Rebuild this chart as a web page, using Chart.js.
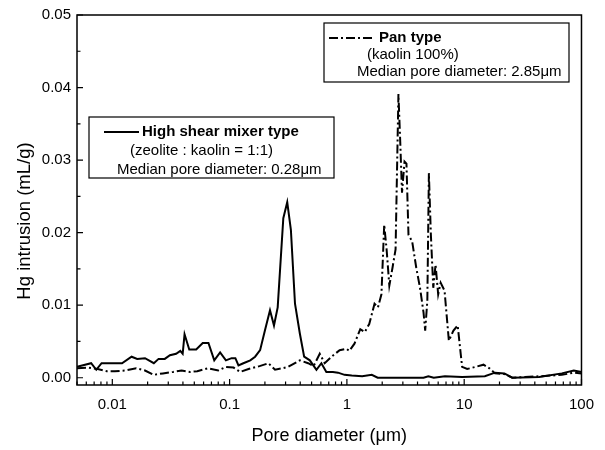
<!DOCTYPE html>
<html>
<head>
<meta charset="utf-8">
<script src="https://cdn.jsdelivr.net/npm/chart.js@4/dist/chart.umd.min.js"></script>
<style>
  html, body { margin: 0; padding: 0; background: #fff; }
  canvas { display: block; }
</style>
</head>
<body>
<canvas id="c" width="605" height="450"></canvas>
<script>
"use strict";
// tick labels
const xTickValues = [0.01, 0.1, 1, 10, 100];
const yTickValues = [0, 0.01, 0.02, 0.03, 0.04, 0.05];

// High shear mixer type (solid)
const shearX = [0.005, 0.0066, 0.0073, 0.0081, 0.01, 0.0121, 0.0146, 0.0163, 0.019, 0.0226,
  0.0248, 0.028, 0.031, 0.035, 0.038, 0.0398, 0.0413, 0.0453, 0.0519, 0.059,
  0.066, 0.074, 0.083, 0.093, 0.104, 0.112, 0.119, 0.131, 0.15, 0.165,
  0.182, 0.2, 0.221, 0.239, 0.257, 0.287, 0.31, 0.333, 0.361, 0.397,
  0.432, 0.483, 0.55, 0.606, 0.668, 0.76, 0.84, 0.955, 1.1, 1.35,
  1.63, 1.83, 4.5, 4.95, 5.5, 6.85, 9.6, 15, 18.3, 22,
  25.7, 43.6, 68, 86, 100];
const shearY = [0.0015, 0.002, 0.0011, 0.002, 0.002, 0.002, 0.0029, 0.0026, 0.0027, 0.002,
  0.0026, 0.0026, 0.0031, 0.0033, 0.0037, 0.0033, 0.006, 0.0039, 0.0039, 0.0048,
  0.0048, 0.0024, 0.0035, 0.0024, 0.0027, 0.0027, 0.0017, 0.002, 0.0024, 0.0029,
  0.0038, 0.0065, 0.0093, 0.0072, 0.0097, 0.022, 0.0242, 0.0204, 0.0102, 0.0061,
  0.0029, 0.0024, 0.0011, 0.002, 0.0008, 0.0008, 0.0007, 0.0004, 0.0003, 0.0002,
  0.0004, 0.0, 0.0, 0.0002, 0.0, 0.0002, 0.0001, 0.0002, 0.0007, 0.0006,
  0.0, 0.0001, 0.0006, 0.001, 0.0008];

// Pan type (dash-dot)
const panX = [0.005, 0.0062, 0.0075, 0.009, 0.0105, 0.013, 0.016, 0.019, 0.0225, 0.027,
  0.033, 0.039, 0.046, 0.053, 0.065, 0.08, 0.093, 0.108, 0.123, 0.145,
  0.18, 0.214, 0.244, 0.28, 0.316, 0.397, 0.467, 0.52, 0.587, 0.647,
  0.74, 0.867, 0.99, 1.05, 1.16, 1.3, 1.42, 1.55, 1.72, 1.84,
  1.97, 2.08, 2.18, 2.3, 2.45, 2.6, 2.75, 2.85, 2.95, 3.1,
  3.22, 3.35, 3.6, 3.9, 4.2, 4.5, 4.65, 4.85, 5.0, 5.2,
  5.45, 5.7, 6.0, 6.3, 6.8, 7.4, 8.1, 8.8, 9.6, 10.6,
  12.5, 14.6, 16.4, 18.3, 22, 25.7, 33, 43, 55, 68,
  86, 100];
const panY = [0.0013, 0.0014, 0.0012, 0.0009, 0.0009, 0.001, 0.0013, 0.001, 0.0004, 0.0006,
  0.0008, 0.001, 0.0008, 0.0009, 0.0013, 0.001, 0.0015, 0.0014, 0.0008, 0.0012,
  0.0016, 0.002, 0.0011, 0.0013, 0.0015, 0.0024, 0.002, 0.0016, 0.0033, 0.002,
  0.0029, 0.0038, 0.004, 0.0037, 0.0047, 0.0067, 0.0063, 0.0074, 0.0102, 0.0097,
  0.0115, 0.0211, 0.0177, 0.0127, 0.0152, 0.0177, 0.0391, 0.0325, 0.0255, 0.0298,
  0.0295, 0.0197, 0.0188, 0.0152, 0.0124, 0.009, 0.0065, 0.0106, 0.0282, 0.0197,
  0.0124, 0.0156, 0.0115, 0.0131, 0.012, 0.0051, 0.0065, 0.0072, 0.0015, 0.0012,
  0.0015, 0.0018, 0.0013, 0.0006, 0.0005, 0.0, 0.0001, 0.0002, 0.0003, 0.0004,
  0.0007, 0.0006];

const toPoints = (xs, ys) => xs.map((x, i) => ({x: x, y: ys[i]}));

const FONT = "'Liberation Sans', Arial, sans-serif";

// frame, inward ticks, y title and the two legend boxes
const decorPlugin = {
  id: "decor",
  afterDraw(chart) {
    const ctx = chart.ctx;
    const a = chart.chartArea;
    const xs = chart.scales.x, ys = chart.scales.y;
    ctx.save();
    ctx.strokeStyle = "#000";
    ctx.lineWidth = 1.5;
    ctx.strokeRect(a.left, a.top, a.right - a.left, a.bottom - a.top);
    ctx.lineWidth = 1.2;
    ctx.beginPath();
    // x ticks (log minor ticks)
    for (let e = -3; e <= 2; e++) {
      for (let m = 1; m <= 9; m++) {
        const v = m * Math.pow(10, e);
        if (v < 0.005 - 1e-9 || v > 100 + 1e-9) continue;
        const px = xs.getPixelForValue(v);
        const len = m === 1 ? 6 : 3.5;
        ctx.moveTo(px, a.bottom);
        ctx.lineTo(px, a.bottom - len);
      }
    }
    // y ticks
    for (let v = 0; v <= 0.0501; v += 0.005) {
      const py = ys.getPixelForValue(v);
      const major = Math.abs(v / 0.01 - Math.round(v / 0.01)) < 1e-6;
      ctx.moveTo(a.left, py);
      ctx.lineTo(a.left + (major ? 6 : 3.5), py);
    }
    ctx.stroke();

    ctx.fillStyle = "#000";
    // y axis title
    ctx.save();
    ctx.translate(25, 221);
    ctx.rotate(-Math.PI / 2);
    ctx.font = "18.5px " + FONT;
    ctx.textAlign = "center";
    ctx.textBaseline = "middle";
    ctx.fillText("Hg intrusion (mL/g)", 0, 0);
    ctx.restore();

    // legend boxes
    ctx.lineWidth = 1.2;
    ctx.strokeRect(89, 117, 245, 61);
    ctx.strokeRect(324, 23, 245, 59);
    ctx.textBaseline = "middle";
    ctx.textAlign = "left";

    ctx.lineWidth = 2;
    ctx.setLineDash([]);
    ctx.beginPath();
    ctx.moveTo(104, 132); ctx.lineTo(139, 132);
    ctx.stroke();
    ctx.font = "bold 15px " + FONT;
    ctx.fillText("High shear mixer type", 142, 132);
    ctx.font = "15px " + FONT;
    ctx.fillText("(zeolite : kaolin = 1:1)", 130, 151);
    ctx.fillText("Median pore diameter: 0.28\u03bcm", 117, 170);

    ctx.setLineDash([9, 3, 2, 3]);
    ctx.beginPath();
    ctx.moveTo(329, 38); ctx.lineTo(373, 38);
    ctx.stroke();
    ctx.setLineDash([]);
    ctx.font = "bold 15px " + FONT;
    ctx.fillText("Pan type", 379, 38);
    ctx.font = "15px " + FONT;
    ctx.fillText("(kaolin 100%)", 367, 55);
    ctx.fillText("Median pore diameter: 2.85\u03bcm", 357, 72);
    ctx.restore();
  }
};

new Chart(document.getElementById("c").getContext("2d"), {
  type: "line",
  data: {
    datasets: [
      {
        label: "High shear mixer type",
        data: toPoints(shearX, shearY),
        borderColor: "#000",
        borderWidth: 2,
        pointRadius: 0,
        tension: 0,
        fill: false
      },
      {
        label: "Pan type",
        data: toPoints(panX, panY),
        borderColor: "#000",
        borderWidth: 2,
        borderDash: [9, 3, 2, 3],
        pointRadius: 0,
        tension: 0,
        fill: false
      }
    ]
  },
  options: {
    responsive: false,
    animation: false,
    devicePixelRatio: 1,
    layout: { padding: { top: 12, right: 21, left: 0, bottom: 0 } },
    plugins: { legend: { display: false }, tooltip: { enabled: false } },
    scales: {
      x: {
        type: "logarithmic",
        min: 0.005,
        max: 100,
        afterBuildTicks: s => { s.ticks = xTickValues.map(v => ({value: v})); },
        afterFit: s => { s.height = 65; },
        grid: { display: false, drawTicks: false },
        border: { display: false },
        ticks: {
          color: "#000",
          padding: 11,
          maxRotation: 0,
          autoSkip: false,
          font: { family: FONT, size: 15 },
          callback: v => String(v)
        },
        title: {
          display: true,
          text: "Pore diameter (\u03bcm)",
          color: "#000",
          font: { family: FONT, size: 18 },
          padding: { top: 0, bottom: 3 }
        }
      },
      y: {
        min: -0.001,
        max: 0.05,
        afterBuildTicks: s => { s.ticks = yTickValues.map(v => ({value: v})); },
        afterFit: s => { s.width = 77; },
        grid: { display: false, drawTicks: false },
        border: { display: false },
        ticks: {
          color: "#000",
          padding: 6,
          font: { family: FONT, size: 15 },
          callback: v => v.toFixed(2)
        },
        title: { display: false }
      }
    }
  },
  plugins: [decorPlugin]
});
</script>
</body>
</html>
